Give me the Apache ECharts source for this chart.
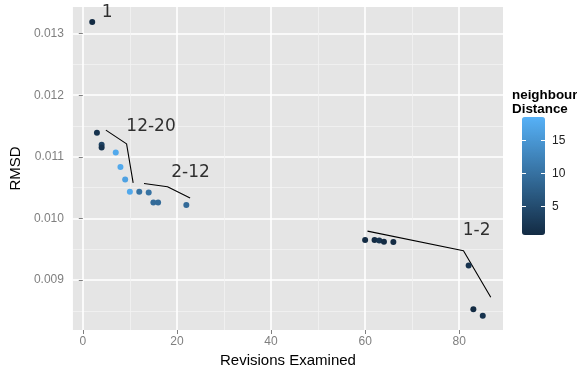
<!DOCTYPE html>
<html>
<head>
<meta charset="utf-8">
<script src="https://cdn.jsdelivr.net/npm/echarts@6/dist/echarts.min.js"></script>
<style>
  html, body { margin: 0; padding: 0; background: #fff; }
  #chart { width: 577px; height: 373px; }
</style>
</head>
<body>
<div id="chart"></div>
<script>
// points
var revisions = [2, 3, 4, 4, 7, 8, 9, 10, 12, 14, 15, 16, 22, 60, 62, 63, 64, 66, 82, 83, 85];
var rmsd = [0.01319, 0.01139, 0.011195, 0.011153, 0.01107, 0.010833, 0.010633, 0.010433,
            0.010433, 0.010422, 0.01026, 0.01026, 0.010216,
            0.009648, 0.009648, 0.009643, 0.009622, 0.009615, 0.009237, 0.008524, 0.00842];
var distance = [1, 2, 4, 2, 17, 17, 16, 17, 10, 10, 9, 9, 9, 1, 1, 2, 1, 1, 2, 1, 2];

// annotations (text + hand drawn segments)
var annoText = ['1', '12-20', '2-12', '1-2'];
var annoX = [5.2, 14.5, 22.9, 83.7];
var annoY = [0.013341, 0.011493, 0.010742, 0.009802];
var seg1220 = [[4.9, 0.011433], [9.3, 0.011211], [10.7, 0.010578]];
var seg212 = [[13.0, 0.010568], [18.0, 0.010515], [22.8, 0.010330]];
var seg12 = [[60.5, 0.009794], [80.9, 0.009476], [86.7, 0.008719]];

// axes
var xTicks = [0, 20, 40, 60, 80];
var xMinor = [10, 30, 50, 70];
var yTicks = [0.009, 0.010, 0.011, 0.012, 0.013];
var yMinor = [0.0085, 0.0095, 0.0105, 0.0115, 0.0125];
var legendTicks = [5, 10, 15];
var distMin = 1, distMax = 18;

var chart = echarts.init(document.getElementById('chart'), null, { renderer: 'canvas' });

var pts = revisions.map(function (x, i) { return [x, rmsd[i], distance[i]]; });
var annos = annoText.map(function (t, i) { return [annoX[i], annoY[i], t]; });

function segSeries(d) {
    return {
        type: 'line',
        data: d,
        symbol: 'none',
        silent: true,
        lineStyle: { color: '#000', width: 1.1 },
        z: 3
    };
}

// legend bar geometry
var barLeft = 522, barTop = 117, barW = 23, barH = 118;
function legendY(v) {
    // ggplot colourbar puts the ticks inside half a bin from each end
    return barTop + barH - (0.025 + 0.95 * (v - distMin) / (distMax - distMin)) * barH;
}
var legendGraphics = [{
    type: 'text', left: 512, top: 88,
    style: { text: 'neighbour\nDistance', font: 'bold 13.4px "Liberation Sans"', fill: '#000', lineHeight: 14 }
}];
legendTicks.forEach(function (v) {
    var y = Math.round(legendY(v)) + 0.5;
    legendGraphics.push({ type: 'line', shape: { x1: barLeft, y1: y, x2: barLeft + 4, y2: y },
        style: { stroke: '#fff', lineWidth: 1 }, z: 100 });
    legendGraphics.push({ type: 'line', shape: { x1: barLeft + barW - 4, y1: y, x2: barLeft + barW, y2: y },
        style: { stroke: '#fff', lineWidth: 1 }, z: 100 });
    legendGraphics.push({ type: 'text', x: barLeft + barW + 7, y: y,
        style: { text: String(v), font: '12px "Liberation Sans"', fill: '#222', verticalAlign: 'middle' } });
});

var option = {
    animation: false,
    backgroundColor: '#fff',
    grid: {
        left: 72, right: 74, top: 7, bottom: 43,
        show: true, backgroundColor: '#E5E5E5', borderWidth: 0
    },
    xAxis: [
        {
            type: 'value', min: -2.1, max: 89.3, position: 'bottom',
            name: 'Revisions Examined', nameLocation: 'middle', nameGap: 23,
            nameTextStyle: { color: '#000', fontSize: 15, fontFamily: 'Liberation Sans' },
            axisLine: { show: false },
            axisTick: { show: true, length: 4, customValues: xTicks, lineStyle: { color: '#7F7F7F' } },
            axisLabel: { customValues: xTicks, margin: 6, color: '#7F7F7F', fontSize: 12, fontFamily: 'Liberation Sans' },
            splitLine: { show: true, lineStyle: { color: '#fff', width: 1.6 } }
        },
        {
            type: 'value', min: -2.1, max: 89.3, position: 'bottom',
            axisLine: { show: false },
            axisTick: { show: false, customValues: xMinor },
            axisLabel: { show: false, customValues: xMinor },
            splitLine: { show: true, lineStyle: { color: '#F2F2F2', width: 0.8 } }
        }
    ],
    yAxis: [
        {
            type: 'value', min: 0.008188, max: 0.013433, position: 'left',
            name: 'RMSD', nameLocation: 'middle', nameGap: 45, nameRotate: 90,
            nameTextStyle: { color: '#000', fontSize: 15, fontFamily: 'Liberation Sans' },
            axisLine: { show: false },
            axisTick: { show: true, length: 4, customValues: yTicks, lineStyle: { color: '#7F7F7F' } },
            axisLabel: {
                customValues: yTicks, margin: 9, color: '#7F7F7F', fontSize: 12, fontFamily: 'Liberation Sans',
                formatter: function (v) { return v.toFixed(3); }
            },
            splitLine: { show: true, lineStyle: { color: '#fff', width: 1.6 } }
        },
        {
            type: 'value', min: 0.008188, max: 0.013433, position: 'left',
            axisLine: { show: false },
            axisTick: { show: false, customValues: yMinor },
            axisLabel: { show: false, customValues: yMinor },
            splitLine: { show: true, lineStyle: { color: '#F2F2F2', width: 0.8 } }
        }
    ],
    visualMap: {
        type: 'continuous',
        min: distMin, max: distMax,
        dimension: 2,
        seriesIndex: 0,
        inRange: { color: ['#132B43', '#56B1F7'] },
        calculable: false,
        hoverLink: false,
        orient: 'vertical',
        left: barLeft, top: barTop,
        itemWidth: barW, itemHeight: barH,
        padding: 0,
        text: null
    },
    graphic: legendGraphics,
    series: [
        {
            type: 'scatter',
            data: pts,
            symbolSize: 6,
            itemStyle: { opacity: 1 },
            z: 4,
            silent: true
        },
        segSeries(seg1220),
        segSeries(seg212),
        segSeries(seg12),
        {
            type: 'scatter',
            data: annos,
            symbolSize: 0,
            silent: true,
            itemStyle: { color: '#000' },
            label: {
                show: true, position: 'inside',
                formatter: function (p) { return p.value[2]; },
                color: '#000', fontSize: 17, fontFamily: 'DejaVu Sans'
            },
            z: 5
        }
    ]
};

chart.setOption(option);
</script>
</body>
</html>
